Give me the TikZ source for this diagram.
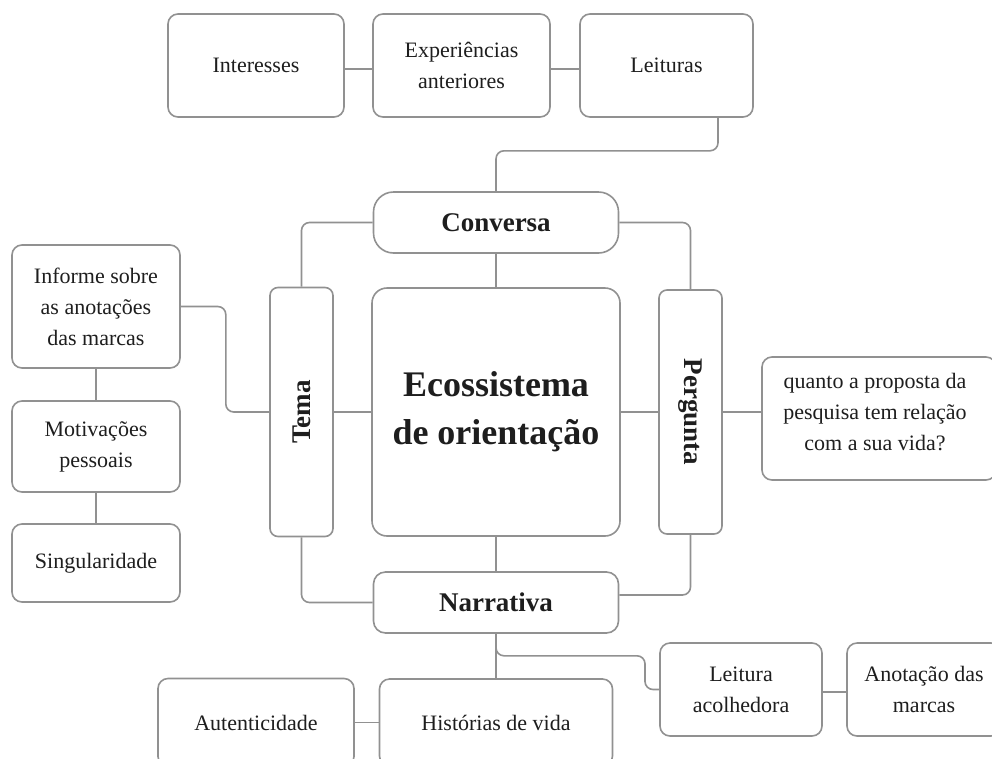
\documentclass[tikz,border=0pt]{standalone}
\usepackage{fontspec}
\setmainfont{Liberation Serif}
\usetikzlibrary{calc}
\definecolor{edge}{RGB}{145,145,145}
\definecolor{ink}{RGB}{30,30,30}
\tikzset{
  box/.style={draw=edge, line width=1.6pt, rounded corners=10pt, fill=white, inner sep=0pt,
    align=center, text=ink, font=\fontsize{22}{31}\selectfont},
  conn/.style={draw=edge, line width=1.6pt, rounded corners=8pt},
  title/.style={font=\fontsize{27}{32}\selectfont\bfseries, text=ink, inner sep=0pt},
  bigtitle/.style={font=\fontsize{36}{48}\selectfont\bfseries, text=ink, inner sep=0pt, align=center},
}
\begin{document}
\begin{tikzpicture}[x=1pt,y=-1pt]
\clip (0,0) rectangle (992,758);
\fill[white] (0,0) rectangle (992,758);

% top row
\node[box, minimum width=176pt, minimum height=103pt] (int) at (256,65.5) {Interesses};
\node[box, minimum width=177pt, minimum height=103pt] (exp) at (461.5,65.5) {Experiências\\anteriores};
\node[box, minimum width=173pt, minimum height=103pt] (lei) at (666.5,65.5) {Leituras};

% centre
\node[box, rounded corners=20pt, minimum width=245pt, minimum height=61pt] (conv) at (496,222.5) {};
\node[title] (convt) at (conv) {Conversa};
\node[box, rounded corners=15pt, minimum width=248pt, minimum height=248pt] (eco) at (496,412) {};
\node[bigtitle] (ecot) at (eco) {Ecossistema\\de orientação};
\node[box, rounded corners=8pt, minimum width=63pt, minimum height=249pt] (tema) at (301.5,412) {};
\node[title, rotate=90] (temat) at (tema) {Tema};
\node[box, rounded corners=8pt, minimum width=63pt, minimum height=244pt] (perg) at (690.5,412) {};
\node[title, rotate=-90] (pergt) at (perg) {Pergunta};
\node[box, rounded corners=12pt, minimum width=245pt, minimum height=61pt] (narr) at (496,602.5) {};
\node[title] (narrt) at (narr) {Narrativa};

% left column
\node[box, minimum width=168pt, minimum height=123pt] (inf) at (96,306.5) {Informe sobre\\as anotações\\das marcas};
\node[box, minimum width=168pt, minimum height=91pt] (mot) at (96,446.5) {Motivações\\pessoais};
\node[box, minimum width=168pt, minimum height=78pt] (sing) at (96,563) {Singularidade};

% right box
\node[box, minimum width=234pt, minimum height=123pt] (quanto) at (879,418.5) {};
\node[inner sep=0pt, align=center, text=ink, font=\fontsize{22}{31}\selectfont] (quantot) at (875,412)
  {quanto a proposta da\\pesquisa tem relação\\com a sua vida?};

% bottom
\node[box, minimum width=196pt, minimum height=88pt] (aut) at (256,722.5) {Autenticidade};
\node[box, minimum width=233pt, minimum height=87pt] (hist) at (496,722.5) {Histórias de vida};
\node[box, minimum width=162pt, minimum height=93pt] (leit) at (741,689.5) {Leitura\\acolhedora};
\node[box, minimum width=154pt, minimum height=93pt] (anot) at (924,689.5) {Anotação das\\marcas};

% connectors
\draw[conn] ([yshift=-3.5pt]int.east) -- ([yshift=-3.5pt]exp.west);
\draw[conn] ([yshift=-3.5pt]exp.east) -- ([yshift=-3.5pt]lei.west);
\draw[conn] ([xshift=51.5pt]lei.south) -- ++(0,33) -| (conv.north);
\draw[conn] (conv.west) -| (tema.north);
\draw[conn] (conv.east) -| (perg.north);
\draw[conn] (conv.south) -- (eco.north);
\draw[conn] (tema.east) -- (eco.west);
\draw[conn] (eco.east) -- (perg.west);
\draw[conn] (perg.east) -- (perg.east -| quanto.west);
\draw[conn] (tema.south) |- (narr.west);
\draw[conn] (perg.south) |- ([yshift=7.5pt]narr.east);
\draw[conn] (eco.south) -- (narr.north);
\draw[conn] (inf.east) -- ++(45,0) |- (tema.west);
\draw[conn] (inf.south) -- (mot.north);
\draw[conn] (mot.south) -- (sing.north);
\draw[conn] (narr.south) -- (hist.north);
\draw[conn] (narr.south) -- ++(0,22) -- ++(149,0) |- (leit.west);
\draw[conn] ([yshift=-2.5pt]leit.east) -- ([yshift=-2.5pt]anot.west);
\draw[conn] (aut.east) -- (hist.west);
\end{tikzpicture}
\end{document}
